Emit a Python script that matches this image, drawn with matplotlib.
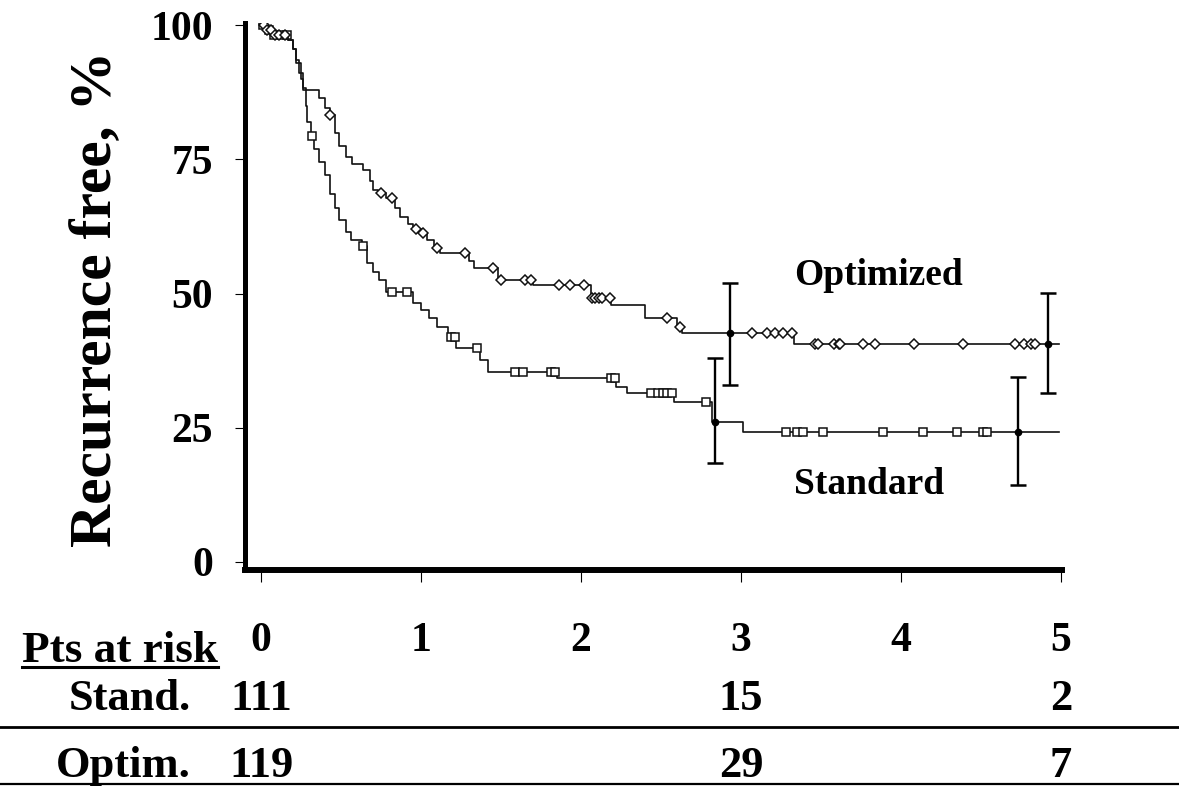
import numpy as np
import matplotlib
matplotlib.use("Agg")
import matplotlib.pyplot as plt
from matplotlib import transforms
from matplotlib.lines import Line2D

plt.rcParams["font.family"] = ["Liberation Serif", "DejaVu Serif"]
plt.rcParams["font.weight"] = "bold"

# Kaplan-Meier steps (years, % recurrence free)
std_t = [0.00, 0.03, 0.07, 0.17, 0.20, 0.22, 0.24, 0.26, 0.28, 0.29, 0.31, 0.33,
         0.36, 0.40, 0.43, 0.46, 0.49, 0.53, 0.56, 0.63, 0.66, 0.70, 0.74, 0.78,
         0.95, 1.00, 1.05, 1.10, 1.17, 1.22, 1.37, 1.42, 1.85, 2.22, 2.29, 2.58,
         2.82, 3.01]
std_s = [100, 99.1, 98.2, 97.3, 95.5, 93.5, 91.0, 88.3, 85.0, 82.0, 79.3, 77.0,
         74.5, 72.0, 68.5, 66.0, 63.7, 61.5, 60.0, 58.8, 55.7, 54.0, 52.5, 50.3,
         48.2, 47.0, 45.5, 43.8, 41.9, 39.8, 37.6, 35.4, 34.2, 32.6, 31.4, 29.8,
         26.0, 24.2]
std_cens = [0.01, 0.05, 0.08, 0.13, 0.16, 0.32, 0.64, 0.82, 0.91, 1.19, 1.21,
            1.35, 1.59, 1.64, 1.81, 1.84, 2.19, 2.21, 2.44, 2.48, 2.51, 2.54,
            2.57, 2.78, 3.28, 3.35, 3.39, 3.51, 3.89, 4.14, 4.35, 4.51, 4.54]

opt_t = [0.00, 0.03, 0.07, 0.17, 0.20, 0.22, 0.25, 0.265, 0.36, 0.40, 0.43, 0.46,
         0.49, 0.53, 0.57, 0.64, 0.68, 0.70, 0.73, 0.78, 0.84, 0.87, 0.92, 0.95,
         1.00, 1.04, 1.08, 1.12, 1.30, 1.33, 1.48, 1.70, 2.06, 2.19, 2.40, 2.60,
         2.63, 3.33]
opt_s = [100, 99.1, 98.2, 97.3, 95.5, 93.0, 90.0, 88.0, 86.5, 84.5, 83.2, 80.0,
         77.5, 75.5, 74.2, 73.0, 71.0, 69.3, 68.8, 67.8, 66.0, 64.3, 63.0, 62.1,
         61.3, 60.0, 58.5, 57.5, 56.0, 54.7, 52.5, 51.6, 49.1, 47.9, 45.4, 43.8,
         42.6, 40.6]
opt_cens = [0.02, 0.04, 0.06, 0.09, 0.11, 0.15, 0.43, 0.75, 0.82, 0.97, 1.01,
            1.10, 1.275, 1.45, 1.50, 1.65, 1.69, 1.86, 1.93, 2.02, 2.07, 2.09,
            2.11, 2.13, 2.18, 2.54, 2.62, 3.07, 3.16, 3.21, 3.26, 3.32, 3.46,
            3.48, 3.58, 3.61, 3.62, 3.76, 3.84, 4.08, 4.39, 4.71, 4.77, 4.81, 4.84]
t_end = 4.99

# 95% CI bars
std_err_t = [2.84, 4.73]
std_err_mid = [26.0, 24.2]
std_err_lo = [18.4, 14.3]
std_err_hi = [38.0, 34.4]
opt_err_t = [2.93, 4.92]
opt_err_mid = [42.6, 40.6]
opt_err_lo = [33.0, 31.5]
opt_err_hi = [52.0, 50.1]

# patients at risk
risk_years = [0, 3, 5]
risk_std = [111, 15, 2]
risk_opt = [119, 29, 7]

x_ticks = [0, 1, 2, 3, 4, 5]
y_ticks = [0, 25, 50, 75, 100]


def surv_at(times, surv, q):
    idx = np.searchsorted(times, q, side="right") - 1
    return np.array(surv)[idx]


W, H = 1179, 786
fig = plt.figure(figsize=(W / 100, H / 100), dpi=100)
ax = fig.add_axes([245 / W, 1 - 570 / H, 817 / W, 547 / H])

for tt, ss, cens, mk, ms in [(std_t, std_s, std_cens, "s", 6.0),
                             (opt_t, opt_s, opt_cens, "D", 5.2)]:
    ax.step(tt + [t_end], ss + [ss[-1]], where="post", color="#111111", lw=1.2)
    ax.plot(cens, surv_at(tt, ss, cens), ls="none", marker=mk, ms=ms,
            mfc="white", mec="#111111", mew=1.1)

for et, mid, lo, hi in [(std_err_t, std_err_mid, std_err_lo, std_err_hi),
                        (opt_err_t, opt_err_mid, opt_err_lo, opt_err_hi)]:
    mid = np.array(mid)
    yerr = [mid - np.array(lo), np.array(hi) - mid]
    ax.errorbar(et, mid, yerr=yerr, fmt="o", color="black", ms=4.5,
                elinewidth=1.7, capsize=5.5, capthick=1.8)

ax.set_xlim(-0.1, 5.006)
ax.set_ylim(-1.5, 100.4)
ax.spines["top"].set_visible(False)
ax.spines["right"].set_visible(False)
ax.spines["left"].set_linewidth(3.6)
ax.spines["bottom"].set_linewidth(4.3)
ax.set_xticks(x_ticks)
ax.set_yticks(y_ticks)
ax.tick_params(axis="x", length=8.5, width=0.8, pad=29, labelsize=30)
ax.tick_params(axis="y", length=7, width=0.8, pad=16, labelsize=30)

ax.text(3.33, 51.6, "Optimized", fontsize=27, ha="left", va="baseline")
ax.text(3.33, 12.7, "Standard", fontsize=27, ha="left", va="baseline")

fig.text(97 / W, 1 - 299 / H, "Recurrence free, %", fontsize=43,
         rotation=90, ha="center", va="center")

# at-risk table
trans = transforms.blended_transform_factory(ax.transData, fig.transFigure)
fig.text(22 / W, 1 - 662 / H, "Pts at risk", fontsize=32.5, ha="left", va="baseline")
fig.add_artist(Line2D([22 / W, 218 / W], [1 - 667 / H] * 2, color="black", lw=2.2))
fig.text(191 / W, 1 - 710 / H, "Stand.", fontsize=32, ha="right", va="baseline")
fig.text(191 / W, 1 - 777 / H, "Optim.", fontsize=32, ha="right", va="baseline")
for yr, ns, no in zip(risk_years, risk_std, risk_opt):
    ax.text(yr, 1 - 710 / H, str(ns), transform=trans, fontsize=32,
            ha="center", va="baseline")
    ax.text(yr, 1 - 777 / H, str(no), transform=trans, fontsize=32,
            ha="center", va="baseline")
fig.add_artist(Line2D([0, 1], [1 - 727 / H] * 2, color="black", lw=2.0))
fig.add_artist(Line2D([0, 1], [1 - 784 / H] * 2, color="black", lw=1.6))

fig.savefig("out.png", dpi=100)
